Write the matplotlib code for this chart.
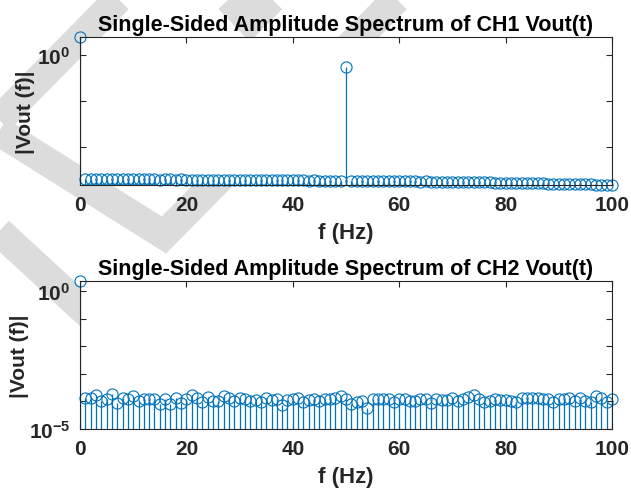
import matplotlib
matplotlib.use('Agg')
import matplotlib.pyplot as plt

# Fuentes parecidas a Helvetica (MATLAB)
plt.rcParams['font.family'] = ['Liberation Sans', 'DejaVu Sans']
plt.rcParams['font.weight'] = 'bold'
plt.rcParams['mathtext.fontset'] = 'custom'
plt.rcParams['mathtext.bf'] = 'Liberation Sans:bold'
plt.rcParams['mathtext.rm'] = 'Liberation Sans:bold'
plt.rcParams['mathtext.default'] = 'bf'

# ---------------- datos ----------------
freq = list(range(0, 101))

ch1_amp = [2.4,
           1.98e-3, 1.97e-3, 1.98e-3, 1.96e-3, 1.97e-3, 1.95e-3, 1.96e-3, 1.97e-3, 1.95e-3, 1.96e-3,
           1.95e-3, 1.96e-3, 1.94e-3, 1.95e-3, 1.93e-3, 1.94e-3, 1.95e-3, 1.93e-3, 1.94e-3, 1.92e-3,
           1.93e-3, 1.92e-3, 1.93e-3, 1.91e-3, 1.92e-3, 1.90e-3, 1.91e-3, 1.92e-3, 1.90e-3, 1.89e-3,
           1.90e-3, 1.89e-3, 1.88e-3, 1.89e-3, 1.87e-3, 1.88e-3, 1.87e-3, 1.86e-3, 1.87e-3, 1.85e-3,
           1.86e-3, 1.85e-3, 1.84e-3, 1.85e-3, 1.83e-3, 1.84e-3, 1.83e-3, 1.82e-3, 1.84e-3, 0.54,
           1.83e-3, 1.81e-3, 1.82e-3, 1.80e-3, 1.81e-3, 1.79e-3, 1.80e-3, 1.78e-3, 1.79e-3, 1.77e-3,
           1.78e-3, 1.76e-3, 1.77e-3, 1.75e-3, 1.76e-3, 1.74e-3, 1.73e-3, 1.74e-3, 1.72e-3, 1.71e-3,
           1.72e-3, 1.70e-3, 1.69e-3, 1.70e-3, 1.68e-3, 1.67e-3, 1.68e-3, 1.66e-3, 1.65e-3, 1.64e-3,
           1.63e-3, 1.64e-3, 1.62e-3, 1.61e-3, 1.60e-3, 1.59e-3, 1.60e-3, 1.58e-3, 1.57e-3, 1.56e-3,
           1.55e-3, 1.54e-3, 1.55e-3, 1.53e-3, 1.52e-3, 1.51e-3, 1.50e-3, 1.49e-3, 1.48e-3, 1.47e-3]

ch2_amp = [2.36,
           1.39e-4, 1.39e-4, 1.69e-4, 1.05e-4, 1.28e-4, 1.84e-4, 8.7e-5, 1.39e-4, 1.28e-4, 1.60e-4,
           1.05e-4, 1.28e-4, 1.21e-4, 1.28e-4, 8.0e-5, 1.28e-4, 8.0e-5, 1.35e-4, 8.7e-5, 1.21e-4,
           1.69e-4, 1.35e-4, 9.7e-5, 1.51e-4, 1.05e-4, 1.05e-4, 1.60e-4, 1.39e-4, 1.05e-4, 1.39e-4,
           1.21e-4, 1.05e-4, 1.11e-4, 9.2e-5, 1.35e-4, 1.11e-4, 1.21e-4, 7.3e-5, 1.11e-4, 1.28e-4,
           1.39e-4, 9.2e-5, 1.11e-4, 1.21e-4, 1.05e-4, 1.21e-4, 1.28e-4, 1.39e-4, 1.60e-4, 1.28e-4,
           8.0e-5, 9.2e-5, 1.05e-4, 5.6e-5, 1.28e-4, 1.28e-4, 1.28e-4, 1.21e-4, 9.2e-5, 1.21e-4,
           1.28e-4, 1.05e-4, 1.05e-4, 1.21e-4, 1.21e-4, 8.7e-5, 1.28e-4, 1.15e-4, 1.15e-4, 1.39e-4,
           1.05e-4, 1.21e-4, 1.47e-4, 1.69e-4, 1.28e-4, 9.2e-5, 1.05e-4, 1.28e-4, 1.11e-4, 1.11e-4,
           1.05e-4, 9.2e-5, 1.35e-4, 1.35e-4, 1.35e-4, 1.39e-4, 1.21e-4, 1.21e-4, 9.2e-5, 1.21e-4,
           1.21e-4, 1.35e-4, 1.05e-4, 1.35e-4, 1.05e-4, 9.7e-5, 1.60e-4, 1.39e-4, 9.2e-5, 1.21e-4]

titles = ['Single-Sided Amplitude Spectrum of CH1 Vout(t)',
          'Single-Sided Amplitude Spectrum of CH2 Vout(t)']
x_label = 'f (Hz)'
y_label = '|Vout (f)|'
x_ticks = [0, 20, 40, 60, 80, 100]

ch1_ylim = (1.47e-3, 2.43)
ch1_yticks = [1e-2, 1e-1, 1e0]
ch1_yticklabels = ['', '', r'$10^{0}$']

ch2_ylim = (1e-5, 2.36)
ch2_yticks = [1e-5, 1e-4, 1e-3, 1e-2, 1e-1, 1e0]
ch2_yticklabels = [r'$10^{-5}$', '', '', '', '', r'$10^{0}$']

matlab_blue = '#0072BD'
axis_gray = '#262626'

# ---------------- figura ----------------
fig = plt.figure(figsize=(6.31, 4.89), dpi=100, facecolor='white')

# Marca de agua gris (fondo, detrás de los ejes)
bg = fig.add_axes([0, 0, 1, 1], zorder=0)
bg.set_xlim(0, 631)
bg.set_ylim(489, 0)
bg.axis('off')
wm = dict(color='#dcdcdc', linewidth=21, solid_joinstyle='miter', solid_capstyle='butt')
bg.plot([140, -8, 164, 416], [-22, 128, 236, -20], **wm)
bg.plot([-20, 110], [215, 335], **wm)
bg.plot([205, 250, 300], [-25, 22, -28], **wm)


def draw_spectrum(rect, amp, ylim, yticks, yticklabels, title, ylabel_x):
    ax = fig.add_axes(rect, zorder=1)
    ax.set_facecolor('white')
    markerline, stemlines, baseline = ax.stem(freq, amp, bottom=1e-9, basefmt=' ')
    markerline.set_color(matlab_blue)
    markerline.set_markerfacecolor('none')
    markerline.set_markersize(8)
    markerline.set_markeredgewidth(0.8)
    markerline.set_clip_on(False)
    stemlines.set_color(matlab_blue)
    stemlines.set_linewidth(0.9)
    ax.set_yscale('log')
    ax.set_xlim(0, 100)
    ax.set_ylim(*ylim)
    ax.set_xticks(x_ticks)
    ax.set_yticks(yticks)
    ax.set_yticklabels(yticklabels)
    ax.minorticks_off()
    ax.tick_params(direction='in', top=True, right=True, length=4.5, width=0.8,
                   labelsize=15, colors=axis_gray, pad=7)
    for lab in ax.get_xticklabels():
        lab.set_fontweight('bold')
    for s in ax.spines.values():
        s.set_color(axis_gray)
        s.set_linewidth(0.8)
    ax.set_title(title, fontsize=15.5, fontweight='bold', color='black', pad=5)
    ax.set_xlabel(x_label, fontsize=16, fontweight='bold', color=axis_gray, labelpad=6)
    ax.set_ylabel(y_label, fontsize=15, fontweight='bold', color=axis_gray)
    ax.yaxis.set_label_coords(ylabel_x, 0.5)
    return ax


ax1 = draw_spectrum([80 / 631, 1 - 186 / 489, 532 / 631, 148 / 489], ch1_amp,
                    ch1_ylim, ch1_yticks, ch1_yticklabels, titles[0], -0.085)
ax2 = draw_spectrum([80 / 631, 1 - 430 / 489, 532 / 631, 148 / 489], ch2_amp,
                    ch2_ylim, ch2_yticks, ch2_yticklabels, titles[1], -0.095)

fig.savefig('out.png', dpi=100, facecolor='white')
